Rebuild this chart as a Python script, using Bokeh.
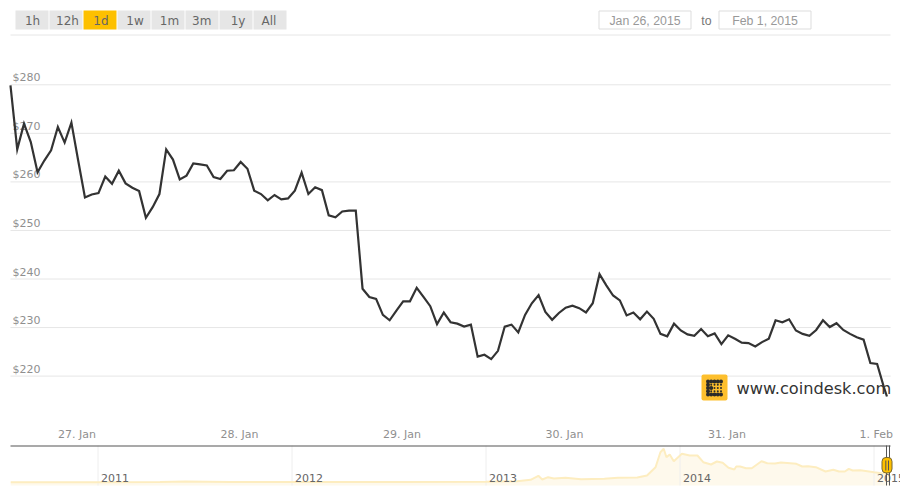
from bokeh.plotting import figure
from bokeh.models import Range1d, ColumnDataSource
from bokeh.core.properties import value
from bokeh.embed import file_html
from bokeh.resources import INLINE

# ---- main series: hourly price, USD
prices = [279.9,266.7,272.0,268.2,262.0,264.4,266.5,271.3,268.1,272.2,264.4,256.8,257.4,257.7,261.1,259.6,262.3,259.7,258.8,258.1,
          252.6,254.8,257.5,266.7,264.6,260.5,261.3,263.8,263.6,263.4,261.0,260.6,262.3,262.4,264.1,262.7,258.2,257.5,256.2,257.3,
          256.4,256.6,258.2,261.9,257.5,258.9,258.3,253.1,252.7,253.9,254.1,254.1,238.0,236.3,235.9,232.6,231.5,233.5,235.4,235.4,
          238.2,236.3,234.4,230.7,233.1,231.1,230.8,230.2,230.6,224.0,224.4,223.5,225.2,230.2,230.6,229.0,232.6,235.0,236.7,233.2,
          231.6,233.0,234.1,234.5,234.0,233.1,235.0,241.0,238.7,236.6,235.6,232.5,233.1,231.7,233.3,231.8,228.7,228.2,230.8,229.4,
          228.6,228.3,229.7,228.2,228.8,226.6,228.4,227.7,226.9,226.8,226.1,227.0,227.7,231.5,231.1,231.7,229.4,228.7,228.3,229.5,
          231.5,230.1,230.9,229.5,228.7,228.0,227.5,222.7,222.5,217.7,215.8]
first_hour = -9.9   # hours relative to 27 Jan 00:00
hours = [first_hour + i for i in range(len(prices) - 1)] + [first_hour + 129.45]   # last quote is mid-hour

y_ticks = [280, 270, 260, 250, 240, 230, 220]
y_labels = ["$280", "$270", "$260", "$250", "$240", "$230", "$220"]
x_ticks = [0, 24, 48, 72, 96, 120]
x_labels = ["27. Jan", "28. Jan", "29. Jan", "30. Jan", "31. Jan", "1. Feb"]

# ---- navigator series
nav_years = [2010.55,2011.0,2011.32,2011.45,2011.68,2012.0,2012.56,2013.0,2013.16,2013.23,2013.27,2013.29,2013.32,2013.35,2013.41,2013.49,
             2013.61,2013.68,2013.78,2013.83,2013.874,2013.899,2013.916,2013.930,2013.947,2013.968,2014.01,2014.05,2014.09,2014.12,2014.16,
             2014.19,2014.22,2014.25,2014.28,2014.29,2014.31,2014.34,2014.37,2014.42,2014.45,2014.49,2014.52,2014.60,2014.63,2014.66,2014.70,
             2014.75,2014.79,2014.82,2014.85,2014.87,2014.89,2014.93,2015.0,2015.04,2015.08]
nav_prices = [0,0.3,8,20,10,5,9,13,34,82,218,92,171,126,150,102,116,150,160,229,512,1024,1140,853,945,717,969,911,911,683,604,706,662,491,
              433,536,536,478,478,717,648,638,672,628,536,546,512,365,423,365,365,457,400,410,341,307,290]
nav_ticks = [2011, 2012, 2013, 2014, 2015]
nav_labels = ["2011", "2012", "2013", "2014", "2015"]

buttons = ["1h", "12h", "1d", "1w", "1m", "3m", "1y", "All"]
active_button = "1d"
date_from = "Jan 26, 2015"
date_to = "Feb 1, 2015"

W, H = 900, 492
GRID = "#e6e6e6"
LABEL = "#8f8f8f"
FONT = value("DejaVu Sans")

p = figure(width=W, height=H, output_backend="svg", toolbar_location=None,
           x_range=Range1d(-77 / 6.7708, (W - 77) / 6.7708),
           y_range=Range1d(280 - (H - 84.3) / 4.855, 280 + 84.3 / 4.855),
           x_axis_location=None, y_axis_location=None,
           min_border_left=0, min_border_right=0, min_border_top=0, min_border_bottom=0)
p.grid.visible = False
p.outline_line_color = None
p.background_fill_color = "white"
p.border_fill_color = "white"

# page-pixel range for chrome, navigator range for the small chart
p.extra_x_ranges["px"] = Range1d(0, W)
p.extra_y_ranges["px"] = Range1d(H, 0)
p.extra_x_ranges["nav"] = Range1d(2011 - 97.5 / 194, 2011 + (W - 97.5) / 194)
p.extra_y_ranges["nav"] = Range1d(-(H - 481.7) / 0.0293, 481.7 / 0.0293)
PX = dict(x_range_name="px", y_range_name="px")

# ---- range selector buttons
nudges = [0.5, 1.5, 1.0, 1.0, 1.5, -0.3, 2.0, -1.0]
for i, b in enumerate(buttons):
    left = 15 + 34 * i
    on = b == active_button
    p.quad(left=left, right=left + 33, top=10, bottom=29, fill_color="#fdc000" if on else "#e6e6e6",
           line_color=None, **PX)
    p.text(x=[left + 16.5 + nudges[i]], y=[20], text=[b], text_align="center", text_baseline="middle",
           text_font=FONT, text_font_size="12px", text_color="#666666", **PX)

# ---- date inputs
for left, right, txt in [(598.5, 690.5, date_from), (718.5, 810.5, date_to)]:
    p.quad(left=left, right=right, top=10.5, bottom=28.5, fill_color="white", line_color="#dddddd", line_width=1, **PX)
    p.text(x=[(left + right) / 2], y=[20], text=[txt], text_align="center", text_baseline="middle",
           text_font=value("Liberation Sans"), text_font_size="12.3px", text_color="#999999", **PX)
p.text(x=[706], y=[20.5], text=["to"], text_align="center", text_baseline="middle",
       text_font=value("Liberation Sans"), text_font_size="12.3px", text_color="#777777", **PX)

# ---- top rule, grid
p.segment(x0=[10], x1=[890], y0=[34.5], y1=[34.5], line_color=GRID, line_width=1, **PX)
p.segment(x0=[first_hour] * len(y_ticks), x1=[first_hour + 130] * len(y_ticks), y0=y_ticks, y1=y_ticks,
          line_color=GRID, line_width=1)

# ---- y labels (inside the plot, above each grid line)
p.text(x=[12] * len(y_ticks), y=y_ticks, text=y_labels, x_range_name="px", y_offset=-7, text_align="left",
       text_baseline="middle", text_font=FONT, text_font_size="11px", text_color=LABEL)

# ---- x labels
aligns = ["center"] * 5 + ["right"]
offs = [-0.5] * 5 + [3]
src = ColumnDataSource(dict(x=x_ticks, y=[434] * 6, t=x_labels, a=aligns, o=offs))
p.text(x="x", y="y", text="t", source=src, y_range_name="px", x_offset="o", text_align="a",
       text_baseline="middle", text_font=FONT, text_font_size="11px", text_color=LABEL)

# ---- main line
p.line(hours, prices, line_color="#333333", line_width=2.2, line_join="miter")

# ---- navigator
NAV = dict(x_range_name="nav", y_range_name="nav")
p.varea(x=nav_years, y1=[-112] * len(nav_years), y2=nav_prices, fill_color="#fef9ec", **NAV)
p.segment(x0=nav_ticks, x1=nav_ticks, y0=[-112] * 5, y1=[1250] * 5, line_color="#eeeeee", line_width=1, **NAV)
p.line(nav_years, nav_prices, line_color="#fdedc0", line_width=2, **NAV)
p.text(x=nav_ticks, y=[477] * 5, text=nav_labels, x_range_name="nav", y_range_name="px", x_offset=3,
       text_align="left", text_baseline="middle", text_font=FONT, text_font_size="11px", text_color="#666666")
p.segment(x0=[10], x1=[890], y0=[445.5], y1=[445.5], line_color="#555555", line_width=1.2, **PX)

# ---- navigator handle
p.segment(x0=[886, 889], x1=[886, 889], y0=[445, 445], y1=[485, 485], line_color="#555555", line_width=1, **PX)
p.rect(x=[886.5], y=[464.7], width=10, height=15.5, fill_color="#fdc000", line_color="#776633", line_width=1,
       border_radius=4, **PX)
p.segment(x0=[885.3, 888], x1=[885.3, 888], y0=[460, 460], y1=[470, 470], line_color="#555555", line_width=1, **PX)

# ---- watermark
p.rect(x=[714], y=[387], width=26, height=26, fill_color="#fdbf2d", line_color=None, border_radius=2, **PX)
rows = [381, 384.3, 387.5, 390.7, 394]
cols = [707.5, 710.7, 714, 717.3, 720.5]
big = {(0, 0), (0, 1), (0, 2), (0, 3), (0, 4), (1, 0), (2, 0), (3, 0), (4, 0), (4, 1), (4, 2), (4, 3), (4, 4), (2, 1)}
for r, yy in enumerate(rows):
    for c, xx in enumerate(cols):
        p.scatter(x=[xx], y=[yy], size=4 if (r, c) in big else 2, fill_color="#2a2a2a", line_color=None, **PX)
p.text(x=[736], y=[388], text=["www.coindesk.com"], text_align="left", text_baseline="middle",
       text_font=FONT, text_font_size="16.2px", text_color="#333333", **PX)

open("out.html", "w").write(file_html(p, INLINE))
